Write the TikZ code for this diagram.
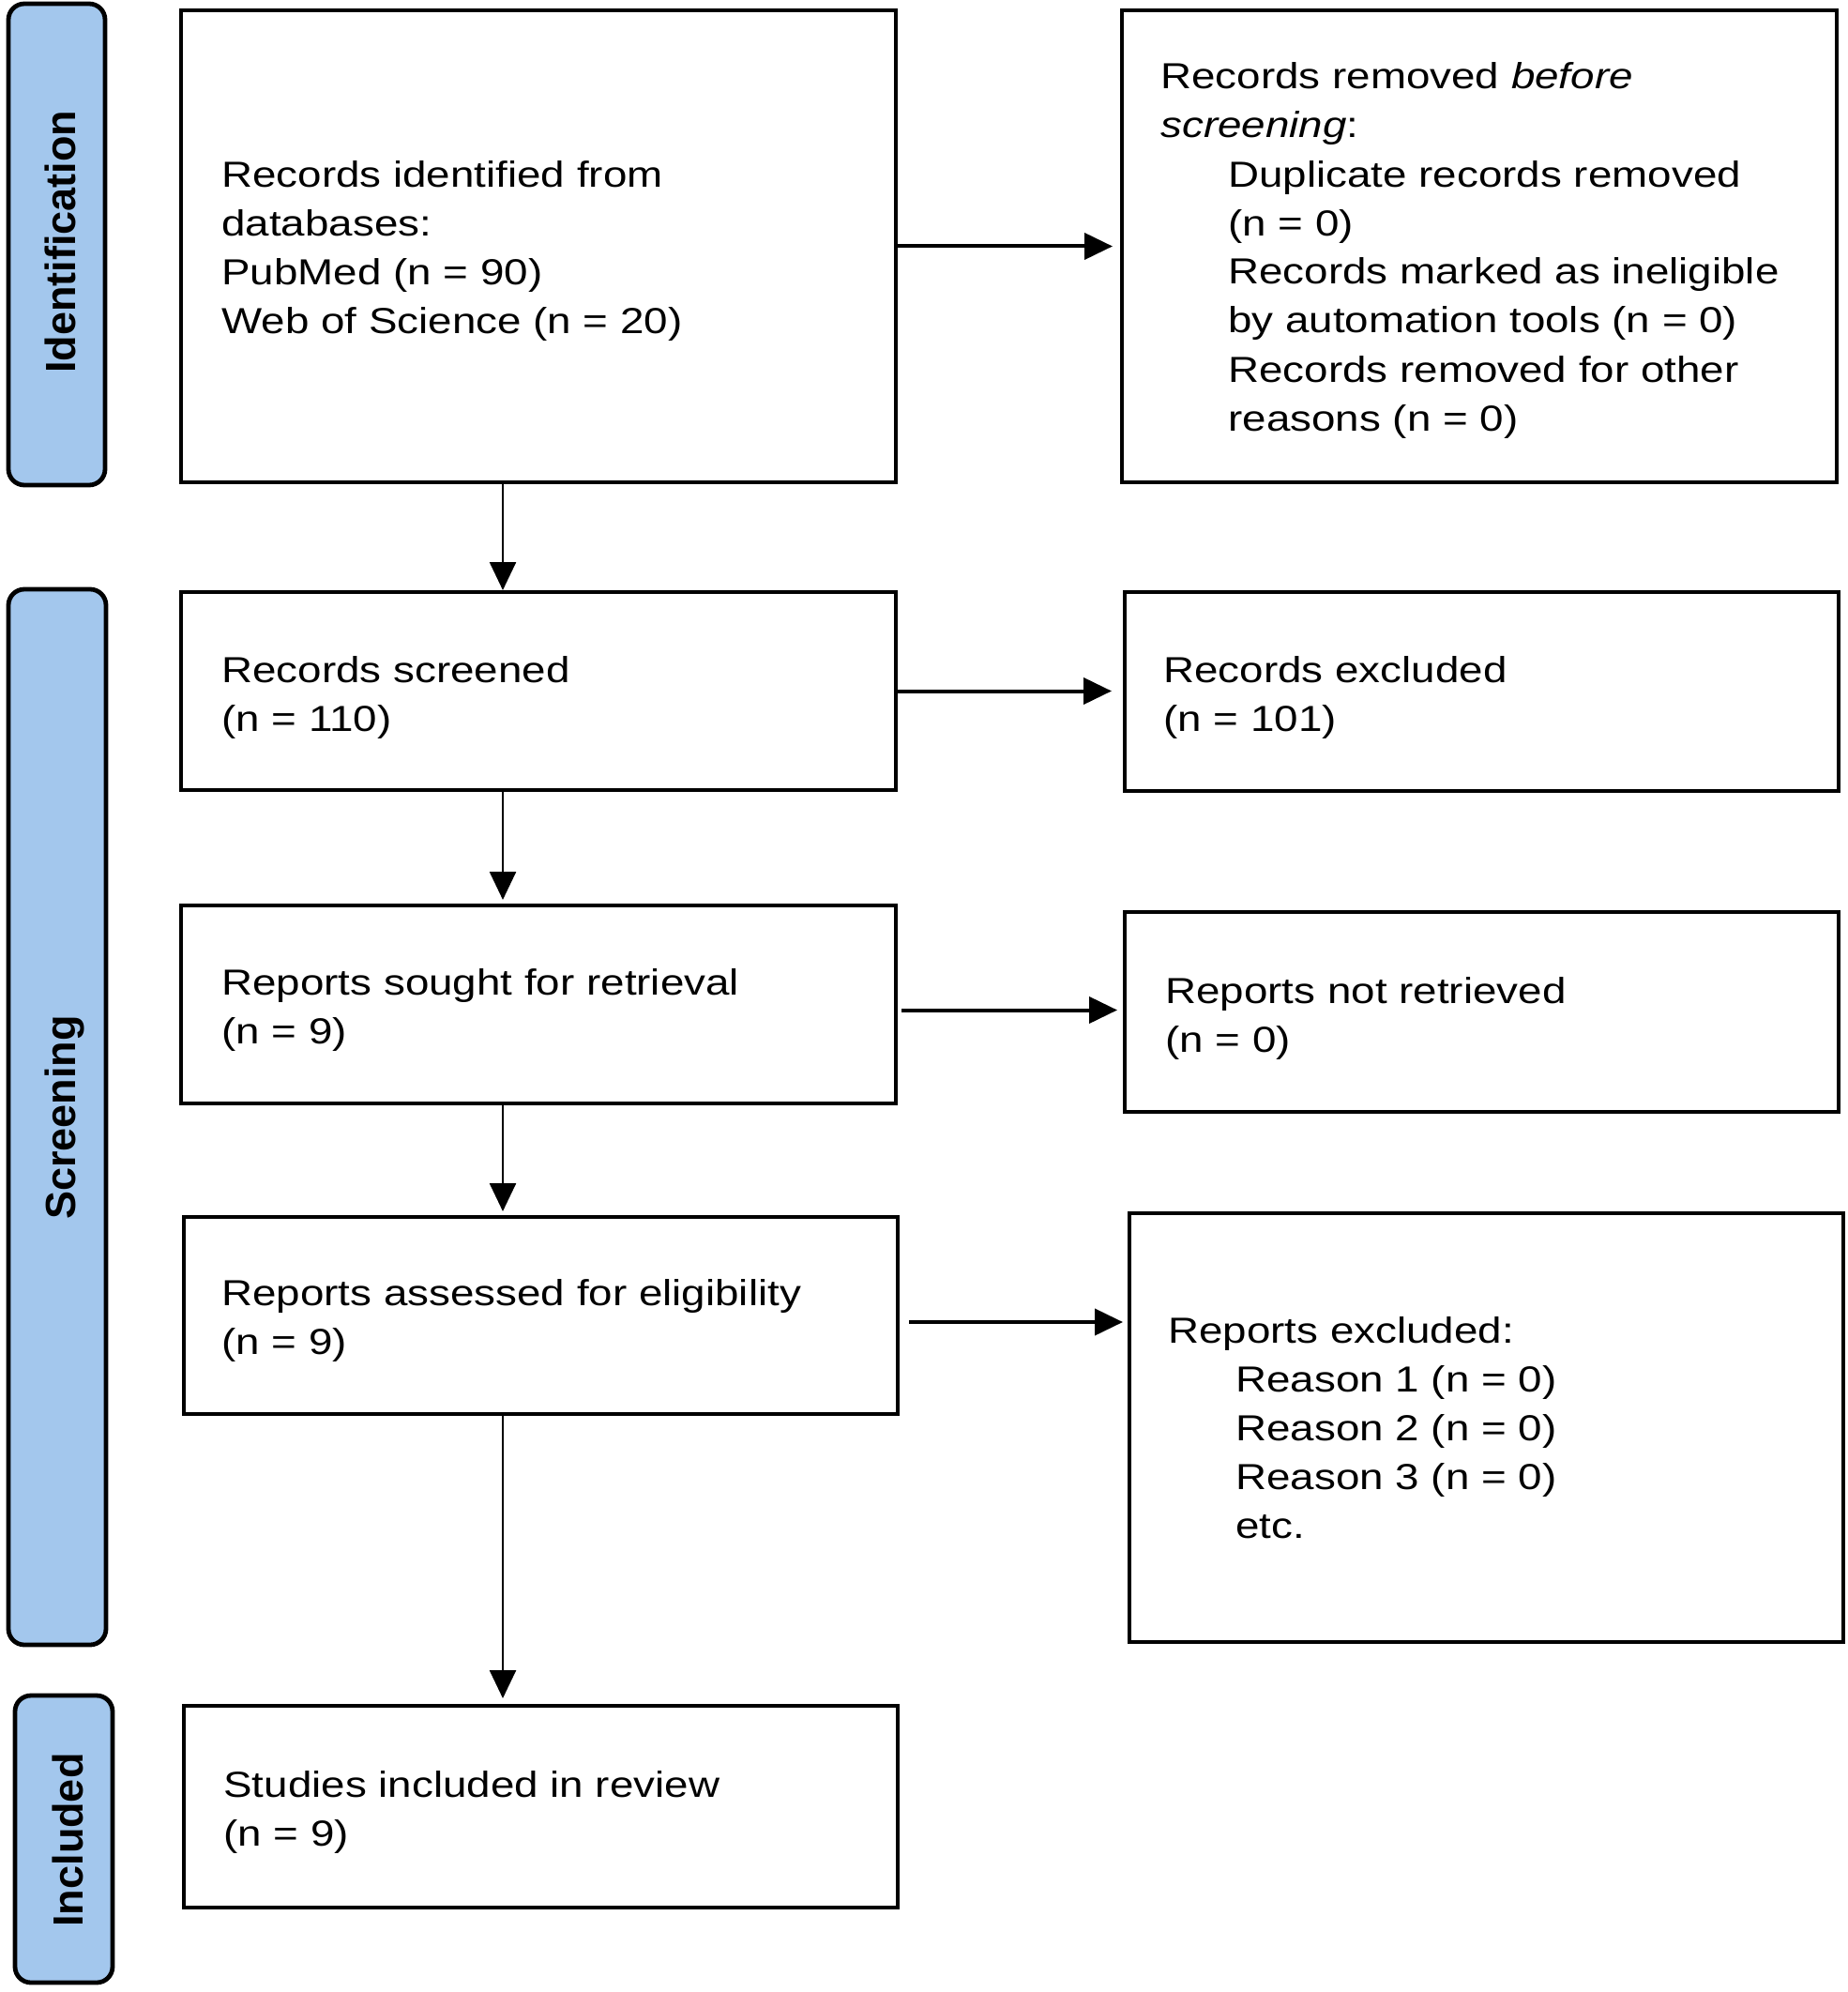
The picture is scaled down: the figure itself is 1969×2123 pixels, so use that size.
\documentclass[tikz,border=0pt]{standalone}
\usepackage{fontspec}
\setmainfont[FakeStretch=1.185]{Liberation Sans}
\newfontfamily\labelfont{Liberation Sans}
\usetikzlibrary{arrows.meta,fit}
\definecolor{barblue}{RGB}{163,199,237}
\begin{document}
\begin{tikzpicture}[x=0.5pt,y=-0.5pt,
  box/.style={draw=black,line width=2.2pt,fill=white,inner sep=0pt,outer sep=0pt},
  bar/.style={draw=black,line width=2.4pt,fill=barblue,rounded corners=8.5pt,inner sep=0pt,outer sep=0pt},
  barlabel/.style={rotate=90,anchor=base,inner sep=0pt,font=\labelfont\bfseries\fontsize{22.5}{27}\selectfont},
  txt/.style={anchor=base west,inner sep=0pt,align=left,font=\fontsize{19.3}{26}\selectfont},
  harrow/.style={line width=2pt,-{Triangle[length=15pt,width=14pt]}},
  varrow/.style={line width=1.3pt,-{Triangle[length=15pt,width=14pt]}},
]
\useasboundingbox (0,0) rectangle (1969,2123);

% phase bars
\node[bar,fit={(9,4) (112,517)}] (idbar) {};
\node[bar,fit={(9,628) (113,1753)}] (scrbar) {};
\node[bar,fit={(16,1807) (120,2113)}] (incbar) {};
\node[barlabel] (idlab) at (80,258) {Identification};
\node[barlabel] (scrlab) at (80,1191) {Screening};
\node[barlabel] (inclab) at (88,1961) {Included};

% left column boxes
\node[box,fit={(193,11) (955,514)}] (b1) {};
\node[box,fit={(193,631) (955,842)}] (b2) {};
\node[box,fit={(193,965) (955,1176)}] (b3) {};
\node[box,fit={(196,1297) (957,1507)}] (b4) {};
\node[box,fit={(196,1818) (957,2033)}] (b5) {};

% right column boxes
\node[box,fit={(1196,11) (1958,514)}] (rb1) {};
\node[box,fit={(1199,631) (1960,843)}] (rb2) {};
\node[box,fit={(1199,972) (1960,1185)}] (rb3) {};
\node[box,fit={(1204,1293) (1965,1750)}] (rb4) {};

% texts (anchored at the baseline of their last line)
\node[txt] (t1) at (236,356) {Records identified from\\databases:\\PubMed (n = 90)\\Web of Science (n = 20)};
\node[txt] (t2) at (236,779) {Records screened\\(n = 110)};
\node[txt] (t3) at (236,1112) {Reports sought for retrieval\\(n = 9)};
\node[txt] (t4) at (236,1443) {Reports assessed for eligibility\\(n = 9)};
\node[txt] (t5) at (238,1967) {Studies included in review\\(n = 9)};

\node[txt] (rt1) at (1237,459) {Records removed \textit{before}\\\textit{screening}:\\
\hspace*{36pt}Duplicate records removed\\\hspace*{36pt}(n = 0)\\
\hspace*{36pt}Records marked as ineligible\\\hspace*{36pt}by automation tools (n = 0)\\
\hspace*{36pt}Records removed for other\\\hspace*{36pt}reasons (n = 0)};
\node[txt] (rt2) at (1240,779) {Records excluded\\(n = 101)};
\node[txt] (rt3) at (1242,1121) {Reports not retrieved\\(n = 0)};
\node[txt] (rt4) at (1245,1639) {Reports excluded:\\
\hspace*{36pt}Reason 1 (n = 0)\\\hspace*{36pt}Reason 2 (n = 0)\\
\hspace*{36pt}Reason 3 (n = 0)\\\hspace*{36pt}etc.};

% vertical connectors
\coordinate (vx) at (536,0);
\draw[varrow,shorten >=1pt] (b1.south -| vx) -- (b2.north -| vx);
\draw[varrow,shorten >=3pt] (b2.south -| vx) -- (b3.north -| vx);
\draw[varrow,shorten >=3pt] (b3.south -| vx) -- (b4.north -| vx);
\draw[varrow,shorten >=4pt] (b4.south -| vx) -- (b5.north -| vx);

% horizontal connectors
\draw[harrow,shorten >=5pt] (b1.east) -- (b1.east -| rb1.west);
\draw[harrow,shorten >=7pt] (b2.east) -- (b2.east -| rb2.west);
\draw[harrow,shorten <=3pt,shorten >=4pt] ([yshift=-3pt]b3.east) -- ([yshift=-3pt]b3.east -| rb3.west);
\draw[harrow,shorten <=6pt,shorten >=3.5pt] ([yshift=-3.5pt]b4.east) -- ([yshift=-3.5pt]b4.east -| rb4.west);
\end{tikzpicture}
\end{document}
